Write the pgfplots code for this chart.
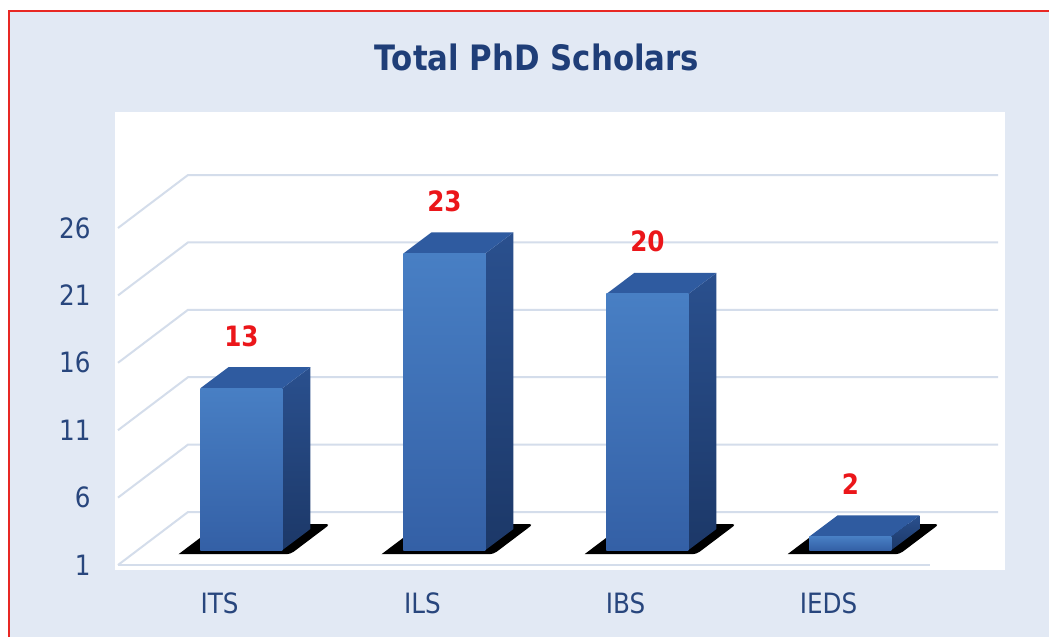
\documentclass[border=0pt]{standalone}
\usepackage{fontspec}
\setmainfont{DejaVu Sans}[FakeStretch=0.88]
\usepackage{pgfplots}
\pgfplotsset{compat=1.18}
\usepackage{pgfplotstable}

\definecolor{bgblue}{RGB}{226,233,244}
\definecolor{frameRed}{RGB}{232,40,36}
\definecolor{gridc}{RGB}{212,221,235}
\definecolor{titleBlue}{RGB}{31,62,120}
\definecolor{tickBlue}{RGB}{40,70,125}
\definecolor{frontTop}{RGB}{72,127,196}
\definecolor{frontBot}{RGB}{52,96,166}
\definecolor{topFace}{RGB}{47,91,160}
\definecolor{sideTop}{RGB}{42,80,142}
\definecolor{sideBot}{RGB}{28,56,104}
\definecolor{valRed}{RGB}{235,22,26}

\pgfplotstableread{
i v
0 13
1 23
2 20
3 2
}\datatable

\newcommand\drawbar[1]{%
  \pgfplotstablegetelem{#1}{v}\of\datatable
  \pgfmathsetmacro\bv{\pgfplotsretval}%
  \pgfmathsetmacro\xl{#1-0.094}%
  \pgfmathsetmacro\xr{#1+0.310}%
  \pgfmathsetmacro\xrr{#1+0.448}%
  \pgfmathsetmacro\xll{#1+0.044}%
  \pgfmathsetmacro\yt{\bv+1.113}%
  \pgfmathsetmacro\ytt{\bv+2.673}%
  \pgfmathsetmacro\sa{\xl-0.108}%
  \pgfmathsetmacro\sb{\xl+0.443}%
  \pgfmathsetmacro\sc{\xl+0.640}%
  \pgfmathsetmacro\sd{\xl+0.089}%
  \edef\doplots{%
    \noexpand\addplot[draw=none, fill=black, rounded corners=4pt]
      coordinates {(\sa,1.80) (\sb,1.80) (\sc,4.04) (\sd,4.04) (\sa,1.80)};
    \noexpand\addplot[draw=none, top color=sideTop, bottom color=sideBot]
      coordinates {(\xr,2.113) (\xrr,3.673) (\xrr,\ytt) (\xr,\yt) (\xr,2.113)};
    \noexpand\addplot[draw=none, fill=topFace]
      coordinates {(\xl,\yt) (\xr,\yt) (\xrr,\ytt) (\xll,\ytt) (\xl,\yt)};
    \noexpand\addplot[draw=none, top color=frontTop, bottom color=frontBot]
      coordinates {(\xl,2.113) (\xr,2.113) (\xr,\yt) (\xl,\yt) (\xl,2.113)};
  }\doplots
}

\begin{document}
\begin{tikzpicture}
\useasboundingbox (0,0) rectangle (1049pt,-637pt);
\begin{scope}[x=1pt,y=-1pt]
  \fill[white] (0,0) rectangle (1049,637);
  \fill[bgblue] (9,11) rectangle (1049,637);
  \draw[frameRed, line width=2.2pt] (9,637) -- (9,11) -- (1049,11);
  \fill[white] (115,112) rectangle (1005,570);
  \foreach \t in {1,6,11,16,21,26} {
    \pgfmathsetmacro\yf{565-(\t-1)*13.48}
    \pgfmathsetmacro\yb{\yf-53}
    \draw[gridc, line width=2pt] (118,\yf) -- (188,\yb) -- (998,\yb);
  }
  \draw[gridc, line width=2pt] (118,565) -- (930,565);
  \node[anchor=base, text=titleBlue, font=\fontsize{35}{40}\selectfont\bfseries] at (537,70) {Total PhD Scholars};
\end{scope}
\begin{axis}[
  at={(118pt,-565pt)}, anchor=south west,
  x=203pt, y=13.48pt,
  xmin=-0.5, xmax=3.5, ymin=1, ymax=26,
  clip=false,
  axis line style={draw=none},
  major tick length=0pt,
  xtick={0,1,2,3}, xticklabels={ITS,ILS,IBS,IEDS},
  ytick={1,6,11,16,21,26},
  /pgf/number format/assume math mode=true,
  tick label style={font=\fontsize{28}{34}\selectfont, text=tickBlue},
  yticklabel style={anchor=east, xshift=-24pt},
  xticklabel style={anchor=north, yshift=-24pt},
]
\drawbar{0}
\drawbar{1}
\drawbar{2}
\drawbar{3}
\addplot[draw=none, mark=none, nodes near coords, point meta=explicit,
  nodes near coords style={anchor=center, text=valRed, font=\fontsize{28}{32}\selectfont\bfseries}]
  table[x expr=\thisrow{i}+0.108, y expr=\thisrow{v}+5.0, meta=v] {\datatable};
\end{axis}
\end{tikzpicture}
\end{document}
